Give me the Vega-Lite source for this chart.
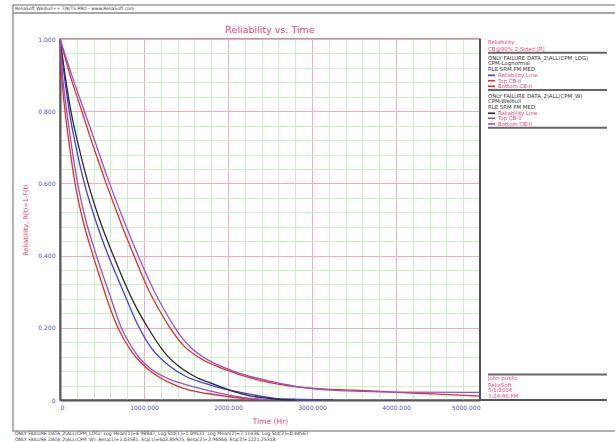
{
  "$schema": "https://vega.github.io/schema/vega-lite/v6.json",
  "width": 420,
  "height": 361,
  "autosize": {"type": "none"},
  "padding": {"left": 60, "top": 39, "right": 135, "bottom": 42},
  "background": "white",
  "config": {"view": {"stroke": "#808080", "strokeWidth": 1.5}, "font": "DejaVu Sans"},
  "datasets": {
    "curves": [
      {"s": "LN Reliability", "t": 0, "r": 1}, {"s": "LN Reliability", "t": 50, "r": 0.9}, {"s": "LN Reliability", "t": 110, "r": 0.8}, {"s": "LN Reliability", "t": 200, "r": 0.69}, {"s": "LN Reliability", "t": 290, "r": 0.6}, {"s": "LN Reliability", "t": 420, "r": 0.5}, {"s": "LN Reliability", "t": 575, "r": 0.4}, {"s": "LN Reliability", "t": 694, "r": 0.333}, {"s": "LN Reliability", "t": 800, "r": 0.275}, {"s": "LN Reliability", "t": 933, "r": 0.205}, {"s": "LN Reliability", "t": 1100, "r": 0.14}, {"s": "LN Reliability", "t": 1300, "r": 0.095}, {"s": "LN Reliability", "t": 1500, "r": 0.065}, {"s": "LN Reliability", "t": 1706, "r": 0.0475}, {"s": "LN Reliability", "t": 1950, "r": 0.031}, {"s": "LN Reliability", "t": 2182, "r": 0.02}, {"s": "LN Reliability", "t": 2400, "r": 0.01}, {"s": "LN Reliability", "t": 2580, "r": 0.004}, {"s": "LN Reliability", "t": 3250, "r": 0.001},
      {"s": "LN Top", "t": 0, "r": 1}, {"s": "LN Top", "t": 120, "r": 0.9}, {"s": "LN Top", "t": 260, "r": 0.8}, {"s": "LN Top", "t": 400, "r": 0.7}, {"s": "LN Top", "t": 550, "r": 0.6}, {"s": "LN Top", "t": 710, "r": 0.5}, {"s": "LN Top", "t": 880, "r": 0.4}, {"s": "LN Top", "t": 1065, "r": 0.3}, {"s": "LN Top", "t": 1180, "r": 0.25}, {"s": "LN Top", "t": 1310, "r": 0.2}, {"s": "LN Top", "t": 1475, "r": 0.15}, {"s": "LN Top", "t": 1640, "r": 0.12}, {"s": "LN Top", "t": 1850, "r": 0.095}, {"s": "LN Top", "t": 2120, "r": 0.072}, {"s": "LN Top", "t": 2460, "r": 0.05}, {"s": "LN Top", "t": 2800, "r": 0.037}, {"s": "LN Top", "t": 3175, "r": 0.03}, {"s": "LN Top", "t": 3500, "r": 0.027}, {"s": "LN Top", "t": 3968, "r": 0.022}, {"s": "LN Top", "t": 4500, "r": 0.016}, {"s": "LN Top", "t": 5000, "r": 0.011},
      {"s": "LN Bottom", "t": 0, "r": 1}, {"s": "LN Bottom", "t": 20, "r": 0.9}, {"s": "LN Bottom", "t": 60, "r": 0.8}, {"s": "LN Bottom", "t": 115, "r": 0.7}, {"s": "LN Bottom", "t": 179, "r": 0.6}, {"s": "LN Bottom", "t": 270, "r": 0.5}, {"s": "LN Bottom", "t": 380, "r": 0.41}, {"s": "LN Bottom", "t": 485, "r": 0.333}, {"s": "LN Bottom", "t": 580, "r": 0.265}, {"s": "LN Bottom", "t": 694, "r": 0.198}, {"s": "LN Bottom", "t": 850, "r": 0.135}, {"s": "LN Bottom", "t": 1000, "r": 0.095}, {"s": "LN Bottom", "t": 1150, "r": 0.068}, {"s": "LN Bottom", "t": 1310, "r": 0.0475}, {"s": "LN Bottom", "t": 1500, "r": 0.03}, {"s": "LN Bottom", "t": 1750, "r": 0.018}, {"s": "LN Bottom", "t": 1984, "r": 0.01}, {"s": "LN Bottom", "t": 2200, "r": 0.004}, {"s": "LN Bottom", "t": 2400, "r": 0.001},
      {"s": "W Reliability", "t": 0, "r": 1}, {"s": "W Reliability", "t": 60, "r": 0.9}, {"s": "W Reliability", "t": 130, "r": 0.8}, {"s": "W Reliability", "t": 225, "r": 0.7}, {"s": "W Reliability", "t": 335, "r": 0.6}, {"s": "W Reliability", "t": 470, "r": 0.5}, {"s": "W Reliability", "t": 635, "r": 0.4}, {"s": "W Reliability", "t": 754, "r": 0.333}, {"s": "W Reliability", "t": 900, "r": 0.26}, {"s": "W Reliability", "t": 1052, "r": 0.198}, {"s": "W Reliability", "t": 1250, "r": 0.13}, {"s": "W Reliability", "t": 1450, "r": 0.087}, {"s": "W Reliability", "t": 1620, "r": 0.063}, {"s": "W Reliability", "t": 1786, "r": 0.0475}, {"s": "W Reliability", "t": 2000, "r": 0.029}, {"s": "W Reliability", "t": 2200, "r": 0.015}, {"s": "W Reliability", "t": 2381, "r": 0.007}, {"s": "W Reliability", "t": 2600, "r": 0.002}, {"s": "W Reliability", "t": 2800, "r": 0.0005},
      {"s": "W Top", "t": 0, "r": 1}, {"s": "W Top", "t": 140, "r": 0.9}, {"s": "W Top", "t": 290, "r": 0.8}, {"s": "W Top", "t": 440, "r": 0.7}, {"s": "W Top", "t": 590, "r": 0.6}, {"s": "W Top", "t": 755, "r": 0.5}, {"s": "W Top", "t": 930, "r": 0.4}, {"s": "W Top", "t": 1125, "r": 0.3}, {"s": "W Top", "t": 1240, "r": 0.25}, {"s": "W Top", "t": 1369, "r": 0.2}, {"s": "W Top", "t": 1460, "r": 0.17}, {"s": "W Top", "t": 1560, "r": 0.145}, {"s": "W Top", "t": 1706, "r": 0.119}, {"s": "W Top", "t": 1850, "r": 0.1}, {"s": "W Top", "t": 1984, "r": 0.087}, {"s": "W Top", "t": 2250, "r": 0.066}, {"s": "W Top", "t": 2540, "r": 0.05}, {"s": "W Top", "t": 2850, "r": 0.036}, {"s": "W Top", "t": 3175, "r": 0.028}, {"s": "W Top", "t": 3600, "r": 0.024}, {"s": "W Top", "t": 4000, "r": 0.022}, {"s": "W Top", "t": 5000, "r": 0.021},
      {"s": "W Bottom", "t": 0, "r": 1}, {"s": "W Bottom", "t": 30, "r": 0.9}, {"s": "W Bottom", "t": 80, "r": 0.8}, {"s": "W Bottom", "t": 140, "r": 0.7}, {"s": "W Bottom", "t": 210, "r": 0.6}, {"s": "W Bottom", "t": 305, "r": 0.5}, {"s": "W Bottom", "t": 420, "r": 0.41}, {"s": "W Bottom", "t": 530, "r": 0.333}, {"s": "W Bottom", "t": 620, "r": 0.272}, {"s": "W Bottom", "t": 734, "r": 0.198}, {"s": "W Bottom", "t": 820, "r": 0.16}, {"s": "W Bottom", "t": 950, "r": 0.115}, {"s": "W Bottom", "t": 1100, "r": 0.083}, {"s": "W Bottom", "t": 1300, "r": 0.058}, {"s": "W Bottom", "t": 1468, "r": 0.045}, {"s": "W Bottom", "t": 1700, "r": 0.03}, {"s": "W Bottom", "t": 1900, "r": 0.019}, {"s": "W Bottom", "t": 2100, "r": 0.01}, {"s": "W Bottom", "t": 2300, "r": 0.004}, {"s": "W Bottom", "t": 2500, "r": 0.001}
    ],
    "redHead": [
      {"line": 0.6, "txt": "Reliability"},
      {"line": 1.76, "txt": "CB@90% 2-Sided [R]"},
      {"line": 61.7, "txt": "John public"},
      {"line": 62.9, "txt": "ReliaSoft"},
      {"line": 63.9, "txt": "5/1/2014"},
      {"line": 65.0, "txt": "3:24:46 PM"}
    ],
    "blackHead": [
      {"line": 3.45, "txt": "ONLY FAILURE DATA_2\\ALL(CPM_LOG)"},
      {"line": 4.42, "txt": "CPM-Lognormal"},
      {"line": 5.45, "txt": "RLE SRM FM MED"},
      {"line": 10.3, "txt": "ONLY FAILURE DATA_2\\ALL(CPM_W)"},
      {"line": 11.27, "txt": "CPM-Weibull"},
      {"line": 12.33, "txt": "RLE SRM FM MED"}
    ],
    "items": [
      {"line": 6.6, "txt": "Reliability Line", "s": "LN Reliability"},
      {"line": 7.58, "txt": "Top CB-II", "s": "LN Top"},
      {"line": 8.6, "txt": "Bottom CB-II", "s": "LN Bottom"},
      {"line": 13.5, "txt": "Reliability Line", "s": "W Reliability"},
      {"line": 14.4, "txt": "Top CB-II", "s": "W Top"},
      {"line": 15.45, "txt": "Bottom CB-II", "s": "W Bottom"}
    ],
    "seps": [{"line": 2.49}, {"line": 9.27}, {"line": 16.13}, {"line": 61.0}],
    "footer": [
      {"line": 71.9, "txt": "ONLY FAILURE DATA_2\\ALL(CPM_LOG): Log Mean[1]=6.98847, Log Std[1]=1.09531, Log Mean[2]=7.11436, Log Std[2]=0.44567"},
      {"line": 72.85, "txt": "ONLY FAILURE DATA_2\\ALL(CPM_W): Beta[1]=1.03581, Eta[1]=603.85925, Beta[2]=2.96566, Eta[2]=1221.25318"}
    ]
  },
  "layer": [
    {
      "layer": [
        {
          "data": {"name": "curves"},
          "mark": {"type": "line", "strokeWidth": 1.3, "interpolate": "monotone"},
          "encoding": {
            "x": {"field": "t", "type": "quantitative", "scale": {"domain": [0, 5000], "nice": false},
              "axis": {
                "values": [0, 200, 400, 600, 800, 1000, 1200, 1400, 1600, 1800, 2000, 2200, 2400, 2600, 2800, 3000, 3200, 3400, 3600, 3800, 4000, 4200, 4400, 4600, 4800, 5000],
                "tickCount": 100,
                "grid": true,
                "gridColor": {"condition": {"test": "datum.value % 1000 === 0", "value": "#f5a9bb"}, "value": "#c6f2c6"},
                "gridWidth": 1,
                "ticks": false,
                "domainColor": "#555555", "domainWidth": 2,
                "labelExpr": "datum.value === 0 ? '0' : (datum.value % 1000 === 0 ? format(datum.value, '.3f') : '')",
                "labelOverlap": false,
                "labelColor": "#5050b4", "labelFont": "DejaVu Sans", "labelFontSize": 6, "labelPadding": 4,
                "title": "Time (Hr)", "titleColor": "#e8457a", "titleFont": "DejaVu Sans", "titleFontSize": 7.5, "titleFontWeight": "normal", "titlePadding": 7
              }
            },
            "y": {"field": "r", "type": "quantitative", "scale": {"domain": [0, 1], "nice": false},
              "axis": {
                "values": [0, 0.04, 0.08, 0.12, 0.16, 0.2, 0.24, 0.28, 0.32, 0.36, 0.4, 0.44, 0.48, 0.52, 0.56, 0.6, 0.64, 0.68, 0.72, 0.76, 0.8, 0.84, 0.88, 0.92, 0.96, 1],
                "tickCount": 100,
                "grid": true,
                "gridColor": {"condition": {"test": "abs(datum.value*5 - round(datum.value*5)) < 0.001", "value": "#f5a9bb"}, "value": "#c6f2c6"},
                "gridWidth": 1,
                "ticks": false,
                "domainColor": "#555555", "domainWidth": 2,
                "labelExpr": "datum.value === 0 ? '0' : (abs(datum.value*5 - round(datum.value*5)) < 0.001 ? format(datum.value, '.3f') : '')",
                "labelOverlap": false,
                "labelColor": "#5050b4", "labelFont": "DejaVu Sans", "labelFontSize": 6, "labelPadding": 5,
                "title": "Reliability, R(t)=1-F(t)", "titleColor": "#e8457a", "titleFont": "DejaVu Sans", "titleFontSize": 6.5, "titleFontWeight": "normal", "titlePadding": 9
              }
            },
            "color": {"field": "s", "type": "nominal", "legend": null,
              "scale": {"domain": ["LN Reliability", "LN Top", "LN Bottom", "W Reliability", "W Top", "W Bottom"],
                        "range": ["#3c3cf0", "#e82a2a", "#e82a2a", "#2a2a2a", "#9a4fc8", "#9a4fc8"]}}
          }
        },
        {
          "data": {"values": [{}]},
          "mark": {"type": "rule", "color": "#555555", "strokeWidth": 2},
          "encoding": {
            "x": {"datum": 5000, "scale": {"domain": [0, 5000], "nice": false}},
            "y": {"datum": 0, "scale": {"domain": [0, 1], "nice": false}},
            "y2": {"datum": 1}
          }
        }
      ]
    },
    {
      "layer": [
        {
          "data": {"values": [{}]},
          "mark": {"type": "rect", "fill": "transparent", "stroke": "#9a9a9a", "strokeWidth": 1.5},
          "encoding": {
            "x": {"datum": -559.5, "scale": {"domain": [0, 5000], "nice": false}},
            "x2": {"datum": 6700},
            "y": {"datum": -6.18, "scale": {"domain": [0, 65.64], "nice": false, "zero": false, "reverse": true}, "axis": null},
            "y2": {"datum": 71.27}
          }
        },
        {
          "data": {"values": [{}]},
          "mark": {"type": "rule", "color": "#8a8a8a", "strokeWidth": 1.5},
          "encoding": {
            "x": {"datum": -559.5, "scale": {"domain": [0, 5000], "nice": false}},
            "x2": {"datum": 6700},
            "y": {"datum": -4.73, "scale": {"domain": [0, 65.64], "nice": false, "zero": false, "reverse": true}, "axis": null}
          }
        },
        {
          "data": {"values": [{"txt": "ReliaSoft Weibull++ 7/8/TS PRO - www.ReliaSoft.com"}]},
          "mark": {"type": "text", "align": "left", "baseline": "middle", "fontSize": 4.5, "color": "#333333", "font": "DejaVu Sans"},
          "encoding": {
            "x": {"datum": -535.7, "scale": {"domain": [0, 5000], "nice": false}},
            "y": {"datum": -5.45, "scale": {"domain": [0, 65.64], "nice": false, "zero": false, "reverse": true}, "axis": null},
            "text": {"field": "txt"}
          }
        },
        {
          "data": {"values": [{"txt": "Reliability vs. Time"}]},
          "mark": {"type": "text", "align": "center", "baseline": "middle", "fontSize": 9.5, "color": "#e8457a", "font": "DejaVu Sans"},
          "encoding": {
            "x": {"datum": 2500, "scale": {"domain": [0, 5000], "nice": false}},
            "y": {"datum": -1.64, "scale": {"domain": [0, 65.64], "nice": false, "zero": false, "reverse": true}, "axis": null},
            "text": {"field": "txt"}
          }
        },
        {
          "data": {"name": "footer"},
          "mark": {"type": "text", "align": "left", "baseline": "middle", "fontSize": 4.6, "color": "#333333", "font": "DejaVu Sans"},
          "encoding": {
            "x": {"datum": -535.7, "scale": {"domain": [0, 5000], "nice": false}},
            "y": {"field": "line", "type": "quantitative", "scale": {"domain": [0, 65.64], "nice": false, "zero": false, "reverse": true}, "axis": null},
            "text": {"field": "txt"}
          }
        },
        {
          "data": {"name": "redHead"},
          "mark": {"type": "text", "align": "left", "baseline": "middle", "fontSize": 5.4, "color": "#e8457a", "font": "DejaVu Sans"},
          "encoding": {
            "x": {"datum": 5095, "scale": {"domain": [0, 5000], "nice": false}},
            "y": {"field": "line", "type": "quantitative", "scale": {"domain": [0, 65.64], "nice": false, "zero": false, "reverse": true}, "axis": null},
            "text": {"field": "txt"}
          }
        },
        {
          "data": {"name": "blackHead"},
          "mark": {"type": "text", "align": "left", "baseline": "middle", "fontSize": 5.4, "color": "#333333", "font": "DejaVu Sans"},
          "encoding": {
            "x": {"datum": 5095, "scale": {"domain": [0, 5000], "nice": false}},
            "y": {"field": "line", "type": "quantitative", "scale": {"domain": [0, 65.64], "nice": false, "zero": false, "reverse": true}, "axis": null},
            "text": {"field": "txt"}
          }
        },
        {
          "data": {"name": "items"},
          "mark": {"type": "text", "align": "left", "baseline": "middle", "fontSize": 5.4, "color": "#e8457a", "font": "DejaVu Sans"},
          "encoding": {
            "x": {"datum": 5214, "scale": {"domain": [0, 5000], "nice": false}},
            "y": {"field": "line", "type": "quantitative", "scale": {"domain": [0, 65.64], "nice": false, "zero": false, "reverse": true}, "axis": null},
            "text": {"field": "txt"}
          }
        },
        {
          "data": {"name": "items"},
          "mark": {"type": "rule", "strokeWidth": 1.6},
          "encoding": {
            "x": {"datum": 5095, "scale": {"domain": [0, 5000], "nice": false}},
            "x2": {"datum": 5179},
            "y": {"field": "line", "type": "quantitative", "scale": {"domain": [0, 65.64], "nice": false, "zero": false, "reverse": true}, "axis": null},
            "color": {"field": "s", "type": "nominal", "legend": null,
              "scale": {"domain": ["LN Reliability", "LN Top", "LN Bottom", "W Reliability", "W Top", "W Bottom"],
                        "range": ["#3c3cf0", "#e82a2a", "#e82a2a", "#2a2a2a", "#9a4fc8", "#9a4fc8"]}}
          }
        },
        {
          "data": {"name": "seps"},
          "mark": {"type": "rule", "color": "#666666", "strokeWidth": 2},
          "encoding": {
            "x": {"datum": 5095, "scale": {"domain": [0, 5000], "nice": false}},
            "x2": {"datum": 6512},
            "y": {"field": "line", "type": "quantitative", "scale": {"domain": [0, 65.64], "nice": false, "zero": false, "reverse": true}, "axis": null}
          }
        },
        {
          "data": {"values": [{}]},
          "mark": {"type": "rule", "color": "#555555", "strokeWidth": 2},
          "encoding": {
            "x": {"datum": 5000, "scale": {"domain": [0, 5000], "nice": false}},
            "x2": {"datum": 6512},
            "y": {"datum": 65.64, "scale": {"domain": [0, 65.64], "nice": false, "zero": false, "reverse": true}, "axis": null}
          }
        }
      ]
    }
  ],
  "resolve": {"scale": {"y": "independent"}}
}
